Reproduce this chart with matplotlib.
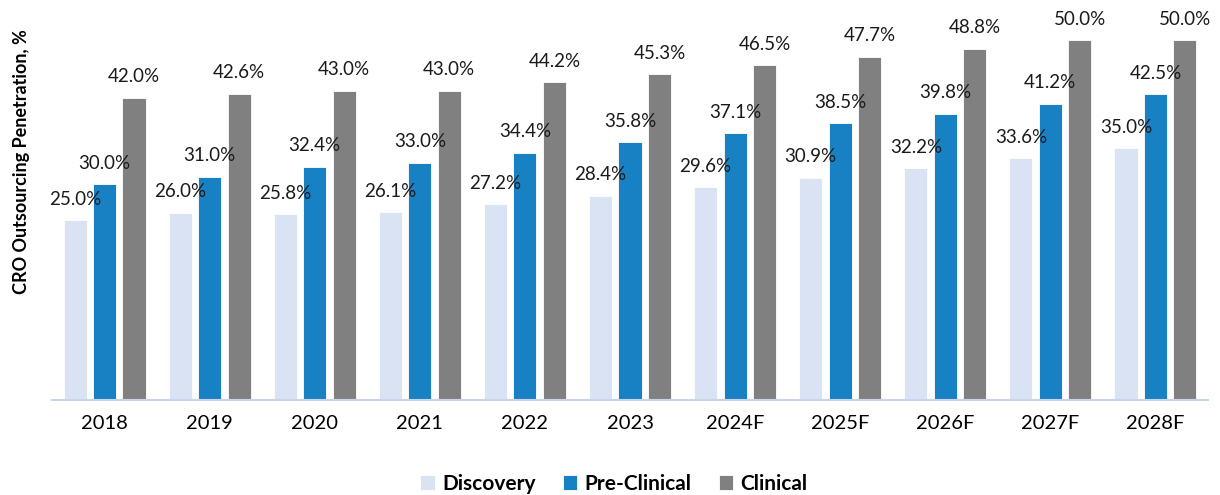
import numpy as np
import matplotlib.pyplot as plt

plt.rcParams['font.family'] = ['Lato', 'DejaVu Sans']

years = ['2018', '2019', '2020', '2021', '2022', '2023',
         '2024F', '2025F', '2026F', '2027F', '2028F']
discovery = [25.0, 26.0, 25.8, 26.1, 27.2, 28.4, 29.6, 30.9, 32.2, 33.6, 35.0]
pre_clinical = [30.0, 31.0, 32.4, 33.0, 34.4, 35.8, 37.1, 38.5, 39.8, 41.2, 42.5]
clinical = [42.0, 42.6, 43.0, 43.0, 44.2, 45.3, 46.5, 47.7, 48.8, 50.0, 50.0]

series = [('Discovery', discovery, '#DAE3F3'),
          ('Pre-Clinical', pre_clinical, '#1881C4'),
          ('Clinical', clinical, '#808080')]

fig = plt.figure(figsize=(12.2, 4.95), dpi=100)
ax = fig.add_axes([52 / 1220, 95 / 495, 1156 / 1220, 400 / 495])

x = np.arange(len(years))
width = 0.22
step = 0.28
for i, (name, vals, col) in enumerate(series):
    pos = x + (i - 1) * step
    bars = ax.bar(pos, vals, width, color=col, label=name,
                  edgecolor='white', linewidth=0.6, zorder=2)
    for p, v in zip(pos, vals):
        ax.annotate(f'{v:.1f}%', (p, v), xytext=(0, 9), textcoords='offset points',
                    ha='center', va='bottom', fontsize=13.5, color='#1a1a1a')

ax.set_xlim(-0.5, len(years) - 0.5)
ax.set_ylim(0, 55.6)
ax.set_xticks(x)
ax.set_xticklabels(years, fontsize=14.5)
ax.tick_params(axis='x', length=0, pad=11)
ax.set_yticks([])
for s in ['top', 'right', 'left']:
    ax.spines[s].set_visible(False)
ax.spines['bottom'].set_color('#C9D5EC')
ax.spines['bottom'].set_linewidth(1.5)

fig.text(22 / 1220, 1 - 162 / 495, 'CRO Outsourcing Penetration, %', rotation=90,
         ha='center', va='center', fontsize=13, fontweight='bold')

leg = fig.legend(loc='center', bbox_to_anchor=(614 / 1220, 1 - 484 / 495), ncol=3,
                 frameon=False, prop={'weight': 'bold', 'size': 15},
                 handlelength=0.7, handleheight=0.7, handletextpad=0.35, columnspacing=1.3)

fig.savefig('out.png', dpi=100)
